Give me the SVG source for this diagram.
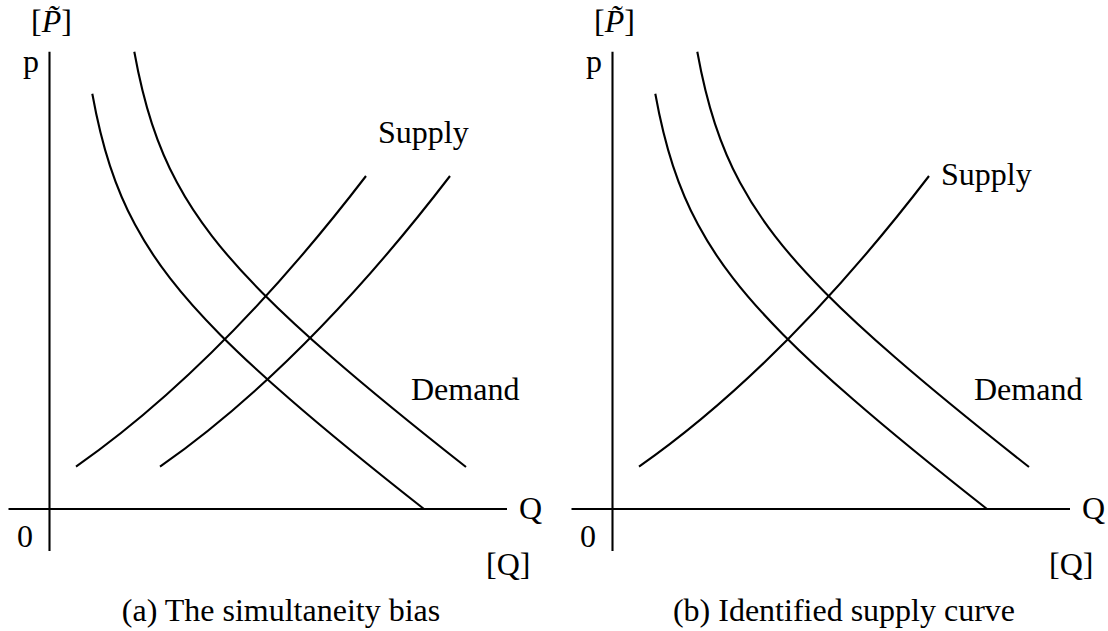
<svg xmlns="http://www.w3.org/2000/svg" xmlns:xlink="http://www.w3.org/1999/xlink" width="1108" height="631" viewBox="0 0 1108 631">
  <style>
    .ln { fill: none; stroke: #000; stroke-width: 2.1; }
    .t { font-family: "Liberation Serif", "DejaVu Serif", serif; font-size: 32px; fill: #000; }
    .cap { font-family: "Liberation Serif", "DejaVu Serif", serif; font-size: 32px; fill: #000; text-anchor: middle; }
  </style>
  <defs>
    <path id="demand" class="ln" d="M92.3,93.7 C98.2,126.4 104.1,147.8 110,165.8 C118.33,191.2 126.67,209.1 135,224.6 C146.67,246.4 158.33,263.1 170,278.1 C186.67,299.7 203.33,317.6 220,334.4 C243.33,357.9 266.67,379 290,399.2 C334.67,438.1 379.33,473.8 424,509"/>
    <path id="supply" class="ln" d="M76,466.7 Q221,365 366,176"/>
  </defs>

  <!-- Panel (a) -->
  <g id="panel-a">
    <g id="axes-a">
      <line class="ln" x1="49.5" y1="51.7" x2="49.5" y2="551"/>
      <line class="ln" x1="8.5" y1="509" x2="507" y2="509"/>
    </g>
    <g id="connectors-a">
      <use id="demand-a1" xlink:href="#demand"/>
      <use id="demand-a2" xlink:href="#demand" transform="translate(42,-42)"/>
      <use id="supply-a1" xlink:href="#supply"/>
      <use id="supply-a2" xlink:href="#supply" transform="translate(84,0)"/>
    </g>
    <g id="labels-a">
      <text class="t" x="31" y="32">[<tspan font-style="italic">P̃</tspan>]</text>
      <text class="t" x="23" y="71.5">p</text>
      <text class="t" x="17" y="547">0</text>
      <text class="t" x="519" y="519">Q</text>
      <text class="t" x="486" y="575">[Q]</text>
      <text class="t" x="378" y="143">Supply</text>
      <text class="t" x="411" y="400">Demand</text>
      <text class="cap" x="281" y="621">(a) The simultaneity bias</text>
    </g>
  </g>

  <!-- Panel (b) -->
  <g id="panel-b">
    <g id="axes-b">
      <line class="ln" x1="612.5" y1="51.7" x2="612.5" y2="551"/>
      <line class="ln" x1="571.5" y1="509" x2="1070" y2="509"/>
    </g>
    <g id="connectors-b" transform="translate(563,0)">
      <use id="demand-b1" xlink:href="#demand"/>
      <use id="demand-b2" xlink:href="#demand" transform="translate(42,-42)"/>
      <use id="supply-b1" xlink:href="#supply"/>
    </g>
    <g id="labels-b">
      <text class="t" x="594" y="32">[<tspan font-style="italic">P̃</tspan>]</text>
      <text class="t" x="586" y="71.5">p</text>
      <text class="t" x="580" y="547">0</text>
      <text class="t" x="1082" y="519">Q</text>
      <text class="t" x="1049" y="575">[Q]</text>
      <text class="t" x="941" y="185">Supply</text>
      <text class="t" x="974" y="400">Demand</text>
      <text class="cap" x="844" y="621">(b) Identified supply curve</text>
    </g>
  </g>
</svg>
